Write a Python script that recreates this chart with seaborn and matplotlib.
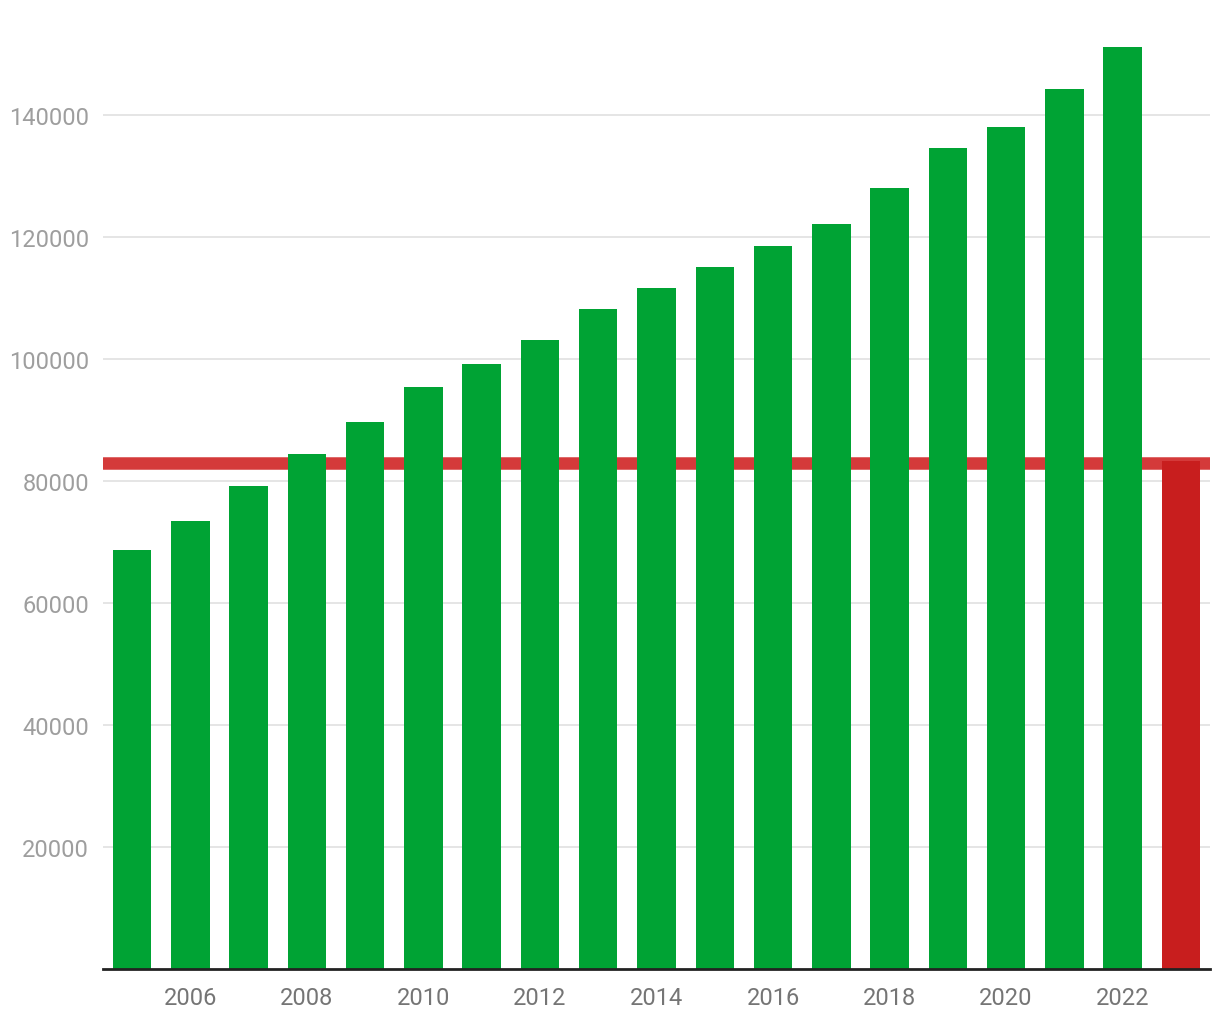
import matplotlib
matplotlib.use("Agg")
import matplotlib.pyplot as plt
import seaborn as sns
import pandas as pd

years = list(range(2005, 2024))
values = [68700, 73400, 79200, 84400, 89700, 95400, 99200, 103100, 108200,
          111600, 115100, 118500, 122100, 128000, 134600, 138000, 144300,
          151100, 83300]
groups = ["past"] * 18 + ["current"]
reference_level = 83000
tick_years = list(range(2006, 2023, 2))

sns.set_theme(style="white")
plt.rcParams['font.family'] = ['Roboto', 'DejaVu Sans']

df = pd.DataFrame({"year": [str(y) for y in years], "value": values, "group": groups})

fig = plt.figure(figsize=(12.2, 10.2), dpi=100)
ax = fig.add_axes([103 / 1220, 50 / 1020, 1107 / 1220, 960 / 1020])

ax.axhline(reference_level, color="#d43a3a", linewidth=9, zorder=1.5)
sns.barplot(data=df, x="year", y="value", hue="group",
            palette={"past": "#00a334", "current": "#c81e1e"},
            width=0.66, dodge=False, legend=False, ax=ax, zorder=2,
            saturation=1, linewidth=0, edgecolor="none")

ax.set_xlim(-0.5, len(years) - 0.5)
ax.set_ylim(0, 157400)
yt = [20000, 40000, 60000, 80000, 100000, 120000, 140000]
ax.set_yticks(yt)
ax.set_yticklabels([str(v) for v in yt])
ax.yaxis.grid(True, color="#e0e0e0", linewidth=1.2, zorder=0)
ax.set_axisbelow(True)

pos = [years.index(y) for y in tick_years]
ax.set_xticks(pos)
ax.set_xticklabels([str(y) for y in tick_years])

ax.tick_params(axis="y", colors="#9e9e9e", labelsize=17, length=0, pad=10)
ax.tick_params(axis="x", colors="#757575", labelsize=17, length=0, pad=12)
for s in ["top", "right", "left"]:
    ax.spines[s].set_visible(False)
ax.spines["bottom"].set_color("#222222")
ax.spines["bottom"].set_linewidth(2)
ax.spines["bottom"].set_zorder(3)
ax.set_xlabel("")
ax.set_ylabel("")

fig.savefig("out.png", dpi=100)
